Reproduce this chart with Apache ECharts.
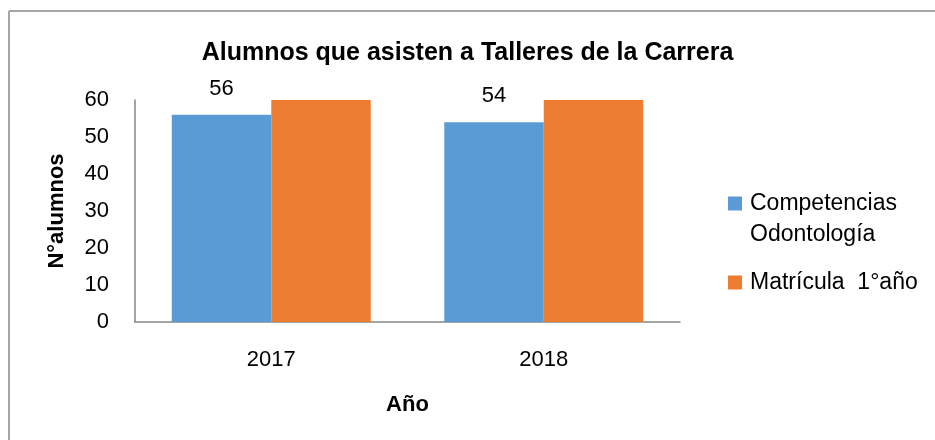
<!DOCTYPE html>
<html>
<head>
<meta charset="utf-8">
<script src="https://cdn.jsdelivr.net/npm/echarts@6/dist/echarts.min.js"></script>
<style>
  html, body { margin: 0; padding: 0; background: #fff; }
  #chart { width: 935px; height: 440px; }
</style>
</head>
<body>
<div id="chart"></div>
<script>
var years = ['2017', '2018'];
var seriesNames = ['Competencias Odontología', 'Matrícula  1°año'];
var competencias = [56, 54];
var matricula = [60, 60];
var yTicks = { min: 0, max: 60, interval: 10 };

var font = '"Liberation Sans", Arial, sans-serif';
var chart = echarts.init(document.getElementById('chart'));

var option = {
    backgroundColor: '#fff',
    textStyle: { fontFamily: font },
    title: {
        text: 'Alumnos que asisten a Talleres de la Carrera',
        left: 'center',
        top: 36,
        textStyle: { fontFamily: font, fontSize: 25, fontWeight: 'bold', color: '#000' }
    },
    graphic: [
        { type: 'line', shape: { x1: 9, y1: 11, x2: 935, y2: 11 }, style: { stroke: '#a6a6a6', lineWidth: 2 } },
        { type: 'line', shape: { x1: 9, y1: 11, x2: 9, y2: 440 }, style: { stroke: '#a6a6a6', lineWidth: 2 } }
    ],
    legend: [
        {
            data: [seriesNames[0]],
            orient: 'vertical',
            left: 723,
            top: 152,
            itemWidth: 14,
            itemHeight: 14,
            icon: 'rect',
            selectedMode: false,
            formatter: function () { return ' \nCompetencias\nOdontología'; },
            textStyle: { fontFamily: font, fontSize: 23, color: '#000', lineHeight: 31, padding: [0, 0, 0, 3] }
        },
        {
            data: [seriesNames[1]],
            orient: 'vertical',
            left: 723,
            top: 262,
            itemWidth: 14,
            itemHeight: 14,
            icon: 'rect',
            selectedMode: false,
            textStyle: { fontFamily: font, fontSize: 23, color: '#000', lineHeight: 31, padding: [0, 0, 0, 3] }
        }
    ],
    grid: { left: 135, right: 255, top: 100, bottom: 118 },
    xAxis: {
        type: 'category',
        data: years,
        name: 'Año',
        nameLocation: 'middle',
        nameGap: 72,
        nameTextStyle: { fontFamily: font, fontSize: 22, fontWeight: 'bold', color: '#000' },
        axisLine: { lineStyle: { color: '#868686', width: 1.5 } },
        axisTick: { show: false },
        axisLabel: { margin: 27, fontSize: 22, color: '#000', fontFamily: font }
    },
    yAxis: {
        type: 'value',
        min: yTicks.min,
        max: yTicks.max,
        interval: yTicks.interval,
        name: 'N°alumnos',
        nameLocation: 'middle',
        nameGap: 67,
        nameTextStyle: { fontFamily: font, fontSize: 22, fontWeight: 'bold', color: '#000' },
        axisLine: { show: true, lineStyle: { color: '#868686', width: 1.5 } },
        axisTick: { show: false },
        splitLine: { show: false },
        axisLabel: { margin: 26, fontSize: 22, color: '#000', fontFamily: font }
    },
    series: [
        {
            name: seriesNames[0],
            type: 'bar',
            data: competencias,
            barGap: '0%',
            barCategoryGap: '27%',
            itemStyle: { color: '#5B9BD5' },
            label: { show: true, position: 'top', distance: 15, fontSize: 22, color: '#000', fontFamily: font }
        },
        {
            name: seriesNames[1],
            type: 'bar',
            data: matricula,
            barGap: '0%',
            barCategoryGap: '27%',
            itemStyle: { color: '#ED7D31' }
        }
    ]
};

chart.setOption(option);
</script>
</body>
</html>
